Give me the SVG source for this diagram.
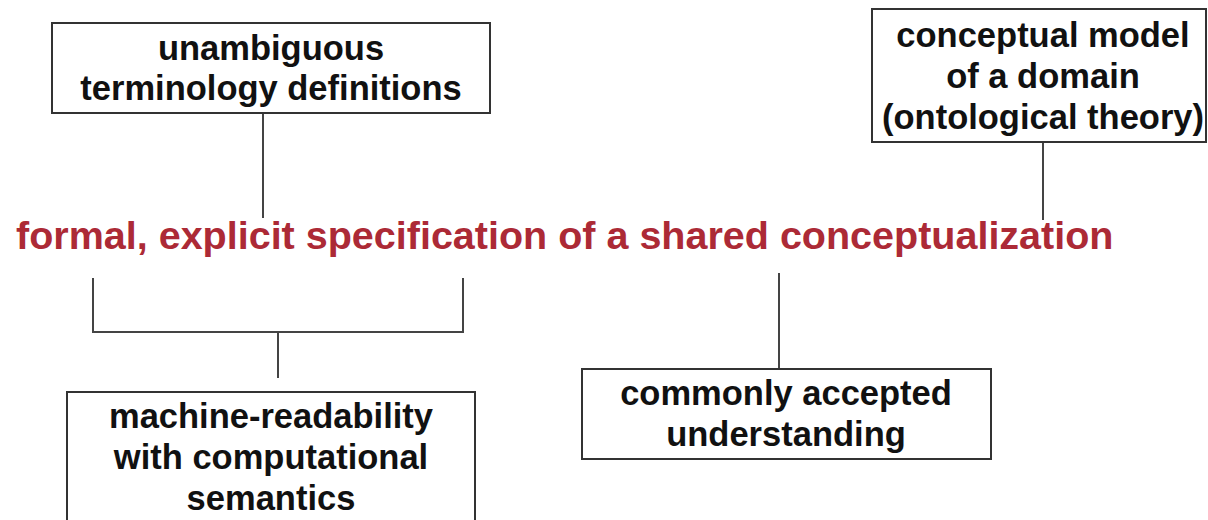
<svg xmlns="http://www.w3.org/2000/svg" width="1208" height="520" viewBox="0 0 1208 520">
  <style>
    .box { fill: #ffffff; stroke: #333333; stroke-width: 2; }
    .lbl { font-family: "Liberation Sans", Arial, Helvetica, sans-serif; font-weight: bold; font-size: 34.5px; fill: #111111; text-anchor: middle; }
    .title { font-family: "Liberation Sans", Arial, Helvetica, sans-serif; font-weight: bold; font-size: 39.5px; fill: #ac2a36; }
    .link { fill: none; stroke: #444444; stroke-width: 2; }
  </style>
  <rect width="1208" height="520" fill="#ffffff"/>

  <!-- connectors -->
  <g id="connectors">
    <line class="link" x1="263" y1="113" x2="263" y2="218"/>
    <line class="link" x1="1043" y1="142" x2="1043" y2="220"/>
    <polyline class="link" points="93,278 93,332 463,332 463,278"/>
    <line class="link" x1="278" y1="332" x2="278" y2="378"/>
    <line class="link" x1="779" y1="273" x2="779" y2="369"/>
  </g>

  <!-- central statement -->
  <g id="definition">
    <text class="title" x="16" y="249">formal, explicit specification of a shared conceptualization</text>
  </g>

  <g id="node-terminology">
    <rect class="box" x="52" y="23" width="438" height="90"/>
    <text class="lbl" x="271" y="60">unambiguous</text>
    <text class="lbl" x="271" y="100">terminology definitions</text>
  </g>

  <g id="node-conceptual-model">
    <rect class="box" x="872" y="9" width="334" height="133"/>
    <text class="lbl" x="1043" y="47">conceptual model</text>
    <text class="lbl" x="1043" y="88">of a domain</text>
    <text class="lbl" x="1043" y="129">(ontological theory)</text>
  </g>

  <g id="node-machine-readability">
    <rect class="box" x="67" y="392" width="408" height="140"/>
    <text class="lbl" x="271" y="428">machine-readability</text>
    <text class="lbl" x="271" y="469">with computational</text>
    <text class="lbl" x="271" y="510">semantics</text>
  </g>

  <g id="node-common-understanding">
    <rect class="box" x="582" y="369" width="409" height="90"/>
    <text class="lbl" x="786" y="405">commonly accepted</text>
    <text class="lbl" x="786" y="446">understanding</text>
  </g>
</svg>
